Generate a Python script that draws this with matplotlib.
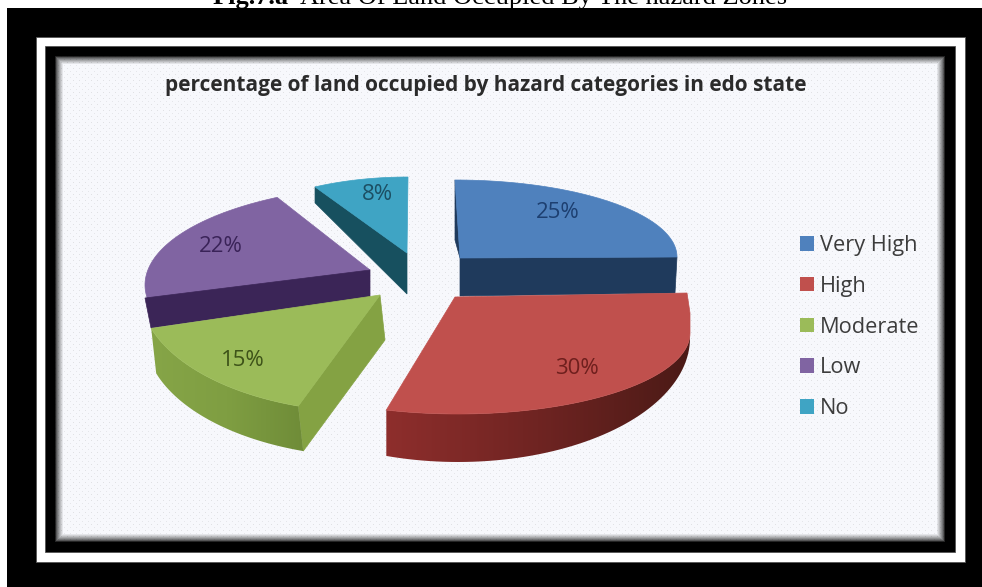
import numpy as np
import matplotlib
matplotlib.use('Agg')
import matplotlib.pyplot as plt
from matplotlib.colors import LinearSegmentedColormap
from matplotlib.patches import Patch, Polygon, Rectangle

# hazard categories and their share of land, in percent
categories = ['Very High', 'High', 'Moderate', 'Low', 'No']
shares = [25, 30, 15, 22, 8]

chart_title = 'percentage of land occupied by hazard categories in edo state'
fig_heading_bold = 'Fig.7.a'
fig_heading_rest = 'Area Of Land Occupied By The hazard Zones'

top_colors = ['#4f81bd', '#c0504d', '#9bbb59', '#8064a2', '#3fa4c4']
side_colors = ['#1f3a5c', '#7a2825', '#84a243', '#3b2557', '#17505f']
label_colors = ['#1d3f70', '#6e1f1d', '#3d5218', '#3a2358', '#1c4f63']

# centre and radii of each slice's rim, apex of the slice, label position
rims = [(455, 257, 222, 77), (458, 333, 232, 81), (369, 291, 229, 121),
        (400, 285, 255, 100), (408, 257, 193, 80)]
apexes = [(460, 258), (455, 297), (380, 295), (370, 270), (407, 253)]
label_xy = [(558, 213), (577, 369), (243, 361), (221, 246), (377, 195)]


def rim_points(rim, start, end, n=60):
    cx, cy, rx, ry = rim
    t = np.radians(np.linspace(start, end, n))
    return np.column_stack([cx + rx * np.cos(t), cy + ry * np.sin(t)])


def cut_face(apex, rim_pt, apex_shift, rim_shift):
    return [apex, rim_pt,
            (rim_pt[0] + rim_shift[0], rim_pt[1] + rim_shift[1]),
            (apex[0] + apex_shift[0], apex[1] + apex_shift[1])]


def add_poly(ax, pts, color, z):
    ax.add_patch(Polygon(pts, closed=True, facecolor=color, edgecolor=color, linewidth=0.5, zorder=z))


def add_gradient_poly(ax, pts, colors, z):
    pts = np.asarray(pts)
    x0, x1 = pts[:, 0].min(), pts[:, 0].max()
    y0, y1 = pts[:, 1].min(), pts[:, 1].max()
    cmap = LinearSegmentedColormap.from_list('side', colors)
    im = ax.imshow(np.linspace(0, 1, 256)[None, :], cmap=cmap, extent=(x0, x1, y1, y0),
                   aspect='auto', zorder=z, interpolation='bilinear')
    clip = Polygon(pts, closed=True, transform=ax.transData)
    im.set_clip_path(clip)


fig = plt.figure(figsize=(9.82, 5.87), dpi=100)
ax = fig.add_axes([0, 0, 1, 1])
ax.set_xlim(0, 982)
ax.set_ylim(587, 0)
ax.axis('off')

# heading above the frame, its upper half is cut by the page edge
ax.text(213, 4, fig_heading_bold, family='Liberation Serif', fontsize=19, fontweight='bold',
        va='baseline', ha='left', color='black', zorder=1)
ax.text(787, 4, fig_heading_rest, family='Liberation Serif', fontsize=19,
        va='baseline', ha='right', color='black', zorder=1)

# nested frame
ax.add_patch(Rectangle((7, 8), 975, 579, facecolor='black', edgecolor='none', zorder=2))
ax.add_patch(Rectangle((36, 37), 929, 525, facecolor='white', edgecolor='#555555', linewidth=0.6, zorder=3))
ax.add_patch(Rectangle((45, 46), 910, 506, facecolor='black', edgecolor='#555555', linewidth=0.6, zorder=4))

# dotted panel with a dark fade along its edges
px, py = 55, 56
pw, ph = 890, 486
yy, xx = np.mgrid[0:ph, 0:pw]
panel = np.full((ph, pw), 0.97)
panel[(xx % 6 == 0) & (yy % 6 == 0)] = 0.88
panel[(xx % 6 == 3) & (yy % 6 == 3)] = 0.90
edge = np.minimum.reduce([xx, yy, pw - 1 - xx, ph - 1 - yy]).astype(float)
panel = panel * (0.15 + 0.85 * np.clip(edge / 8.0, 0, 1) ** 0.7)
rgb = np.dstack([panel, panel * 1.005, np.minimum(panel * 1.02, 1)])
rgb = np.clip(rgb, 0, 1)
ax.imshow(rgb, extent=(px, px + pw, py + ph, py), aspect='auto', zorder=5, interpolation='bilinear')
ax.set_xlim(0, 982)
ax.set_ylim(587, 0)

ax.text(486, 86, chart_title, family='Open Sans', fontsize=15, fontweight='bold',
        color='#2b2b2b', ha='center', va='center', zorder=6)

# slice angles run clockwise from twelve o'clock
edges = 270 + np.concatenate([[0], np.cumsum(shares)]) * 360.0 / sum(shares)
top_rims = [rim_points(rims[i], edges[i], edges[i + 1]) for i in range(len(shares))]

# No (cut face, then top)
add_poly(ax, cut_face(apexes[4], top_rims[4][0], (0, 41), (0, 16)), side_colors[4], 10)
add_poly(ax, [apexes[4]] + list(top_rims[4]), top_colors[4], 11)

# Very High
add_poly(ax, cut_face(apexes[0], top_rims[0][-1], (0, 38), (-2, 36)), side_colors[0], 12)
add_poly(ax, [apexes[0], (455, 240), top_rims[0][0]], side_colors[0], 12)
add_poly(ax, [apexes[0]] + list(top_rims[0]), top_colors[0], 13)

# Low: the cut face sits over the start of the rim and trims it
add_poly(ax, [apexes[3]] + list(top_rims[3]), top_colors[3], 14)
add_poly(ax, cut_face(apexes[3], (145, 298), (0, 27), (6, 30)), side_colors[3], 15)

# Moderate: cut face, curved wall, top
add_poly(ax, cut_face(apexes[2], top_rims[2][0], (5, 45), (5, 45)), side_colors[2], 16)
wall = np.vstack([top_rims[2], (top_rims[2] + (5, 45))[::-1]])
add_gradient_poly(ax, wall, ['#86a547', '#7f9e42', '#6f8c38'], 16)
add_poly(ax, [apexes[2]] + list(top_rims[2]), top_colors[2], 17)

# High: curved wall widens towards the viewer
lower = rim_points((458, 338, 232, 124), edges[1], edges[2])
wall = np.vstack([top_rims[1], lower[::-1]])
add_gradient_poly(ax, wall, ['#8e2e2c', '#6f2422', '#4b1a16'], 18)
add_poly(ax, [apexes[1], (687, 293), (690, 313)] + list(top_rims[1]), top_colors[1], 19)

for i, v in enumerate(shares):
    ax.text(label_xy[i][0], label_xy[i][1], f'{v}%', family='Open Sans', fontsize=16,
            color=label_colors[i], ha='center', va='center', zorder=25)

handles = [Patch(facecolor=c, edgecolor='none', label=n) for c, n in zip(top_colors, categories)]
leg = ax.legend(handles=handles, loc='upper left', bbox_to_anchor=(793.5, 228.5), bbox_transform=ax.transData,
                frameon=False, prop={'family': 'Open Sans', 'size': 15.7}, handlelength=0.64, handleheight=0.64,
                handletextpad=0.28, labelspacing=0.905, borderpad=0.3, borderaxespad=0)
leg.set_zorder(25)
for t in leg.get_texts():
    t.set_color('#3c3c3c')

fig.savefig('out.png', dpi=100)
